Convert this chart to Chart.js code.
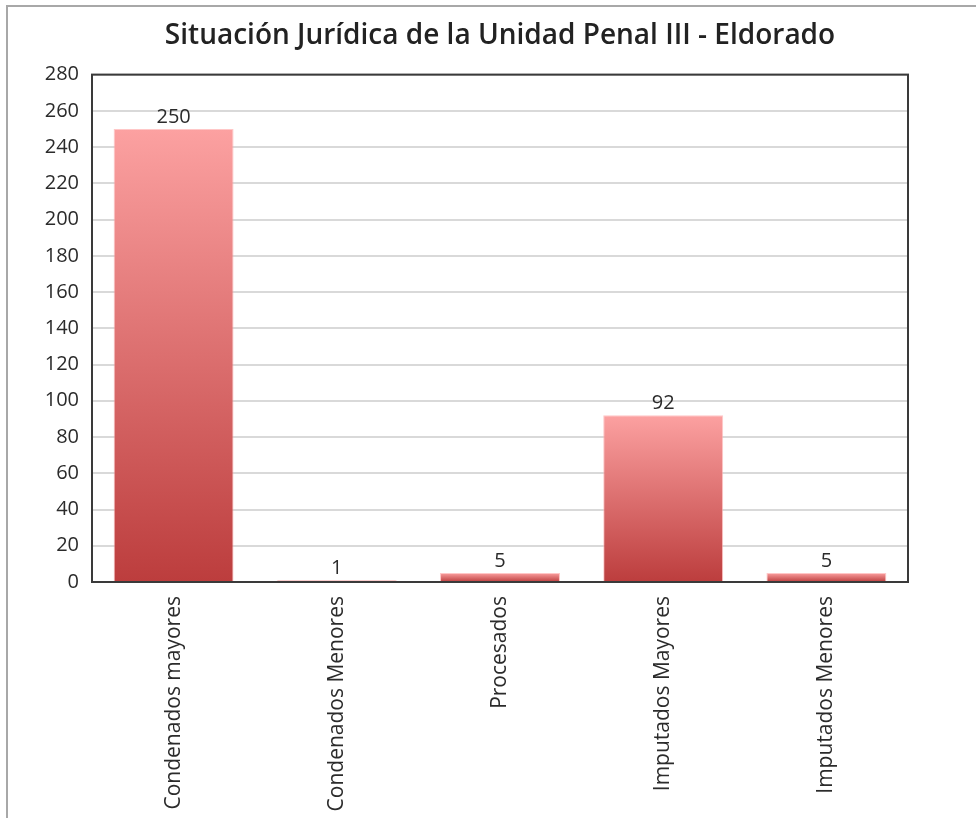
<!DOCTYPE html>
<html>
<head>
<meta charset="utf-8">
<script src="https://cdn.jsdelivr.net/npm/chart.js@4/dist/chart.umd.min.js"></script>
<style>
  html, body { margin: 0; padding: 0; background: #fff; }
  #wrap { position: relative; width: 976px; height: 818px; overflow: hidden; }
  #frame { position: absolute; left: 6px; top: 5px; width: 1000px; height: 840px;
           border-left: 2px solid #a8a8a8; border-top: 2px solid #a8a8a8; pointer-events: none; }
  canvas { position: absolute; left: 0; top: 0; }
</style>
</head>
<body>
<div id="wrap">
  <canvas id="c" width="976" height="818"></canvas>
  <div id="frame"></div>
</div>
<script>
const titleText = 'Situación Jurídica de la Unidad Penal III - Eldorado';
const categories = ['Condenados mayores', 'Condenados Menores', 'Procesados', 'Imputados Mayores', 'Imputados Menores'];
const values = [250, 1, 5, 92, 5];
const yMin = 0;
const yMax = 280;
const yStep = 20;

const FONT = "'Open Sans', 'DejaVu Sans', sans-serif";
const TXT = '#2b2b2b';

function barGradient(ctx) {
  const chart = ctx.chart;
  const ys = chart.scales && chart.scales.y;
  if (!chart.chartArea || !ys || ctx.raw === undefined) return '#e07070';
  const top = ys.getPixelForValue(ctx.raw);
  const bottom = ys.getPixelForValue(0);
  if (!isFinite(top) || !isFinite(bottom) || Math.abs(bottom - top) < 0.5) return '#d05858';
  const g = chart.ctx.createLinearGradient(0, top, 0, bottom);
  g.addColorStop(0, '#fca1a1');
  g.addColorStop(1, '#bc3d3d');
  return g;
}

const valueLabels = {
  id: 'valueLabels',
  afterDatasetsDraw(chart) {
    const ctx = chart.ctx;
    const meta = chart.getDatasetMeta(0);
    ctx.save();
    ctx.font = '20px ' + FONT;
    ctx.fillStyle = TXT;
    ctx.textAlign = 'center';
    ctx.textBaseline = 'bottom';
    meta.data.forEach((bar, i) => {
      ctx.fillText(String(chart.data.datasets[0].data[i]), bar.x, bar.y - 2);
    });
    ctx.restore();
  }
};

const plotFrame = {
  id: 'plotFrame',
  afterDraw(chart) {
    const a = chart.chartArea;
    const ctx = chart.ctx;
    ctx.save();
    ctx.strokeStyle = '#3a3a3a';
    ctx.lineWidth = 2;
    ctx.strokeRect(a.left, a.top, a.right - a.left, a.bottom - a.top);
    ctx.restore();
  }
};

new Chart(document.getElementById('c'), {
  type: 'bar',
  data: {
    labels: categories,
    datasets: [{
      data: values,
      backgroundColor: barGradient,
      borderColor: 'rgba(255,175,175,0.7)',
      borderWidth: 1,
      borderSkipped: 'bottom',
      barPercentage: 0.735,
      categoryPercentage: 1.0
    }]
  },
  options: {
    responsive: false,
    animation: false,
    devicePixelRatio: 1,
    layout: { padding: { left: 0, right: 68, top: 0, bottom: 0 } },
    plugins: {
      legend: { display: false },
      tooltip: { enabled: false },
      title: {
        display: true,
        fullSize: false,
        text: titleText,
        color: '#222',
        font: { family: FONT, size: 28, weight: '600' },
        padding: { top: 19, bottom: 22 }
      }
    },
    scales: {
      x: {
        grid: { display: false, drawTicks: false },
        border: { display: true, color: '#3a3a3a', width: 2 },
        ticks: {
          color: TXT,
          font: { family: FONT, size: 21 },
          minRotation: 90,
          maxRotation: 90,
          autoSkip: false,
          padding: 14
        },
        afterFit(scale) { scale.height = 236; }
      },
      y: {
        min: yMin,
        max: yMax,
        grid: { color: '#d9d9d9', lineWidth: 2, drawTicks: false },
        border: { display: true, color: '#3a3a3a', width: 2 },
        ticks: {
          stepSize: yStep,
          color: TXT,
          font: { family: FONT, size: 20 },
          padding: 13
        },
        afterFit(scale) { scale.width = 92; }
      }
    }
  },
  plugins: [valueLabels, plotFrame]
});
</script>
</body>
</html>
